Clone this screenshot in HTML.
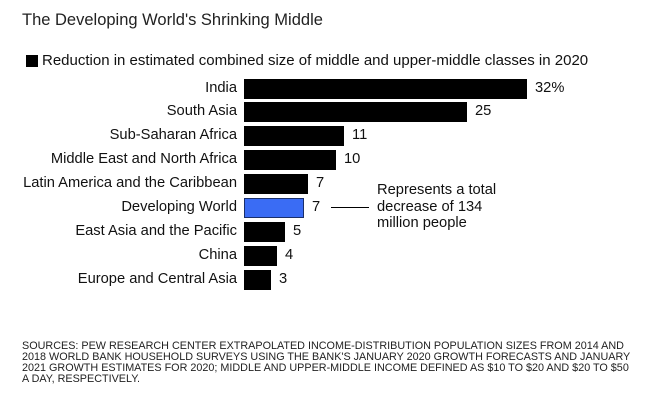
<!DOCTYPE html>
<html><head><style>
body{margin:0;width:658px;height:404px;background:#fff;font-family:"Liberation Sans",Arial,sans-serif;color:#111;position:relative;overflow:hidden}
.a{position:absolute;white-space:nowrap}
.l{position:absolute;right:421px;font-size:14.7px;line-height:20px}
.b{position:absolute;left:244px;height:20px;background:#000}
.v{position:absolute;font-size:14.7px;line-height:20px}
</style></head><body>
<div class="a" style="left:22px;top:11px;font-size:16.5px;color:#222">The Developing World's Shrinking Middle</div>
<div class="a" style="left:26px;top:55px;width:12px;height:12px;background:#000"></div>
<div class="a" style="left:42px;top:52px;font-size:15px">Reduction in estimated combined size of middle and upper-middle classes in 2020</div>

<div class="l" style="top:78px">India</div><div class="b" style="top:79px;width:283px"></div><div class="v" style="left:535px;top:78px">32%</div>
<div class="l" style="top:101px">South Asia</div><div class="b" style="top:102px;width:223px"></div><div class="v" style="left:475px;top:101px">25</div>
<div class="l" style="top:125px">Sub-Saharan Africa</div><div class="b" style="top:126px;width:100px"></div><div class="v" style="left:352px;top:125px">11</div>
<div class="l" style="top:149px">Middle East and North Africa</div><div class="b" style="top:150px;width:92px"></div><div class="v" style="left:344px;top:149px">10</div>
<div class="l" style="top:173px">Latin America and the Caribbean</div><div class="b" style="top:174px;width:64px"></div><div class="v" style="left:316px;top:173px">7</div>
<div class="l" style="top:197px">Developing World</div><div class="b" style="top:198px;width:58px;height:18px;background:#3a6cf4;border:1px solid #1a2f6a"></div><div class="v" style="left:312px;top:197px">7</div>
<div class="a" style="left:331px;top:207px;width:38px;height:1px;background:#000"></div>
<div class="a" style="left:377px;top:182px;font-size:14.7px;line-height:16.5px">Represents a total<br>decrease of 134<br>million people</div>
<div class="l" style="top:221px">East Asia and the Pacific</div><div class="b" style="top:222px;width:41px"></div><div class="v" style="left:293px;top:221px">5</div>
<div class="l" style="top:245px">China</div><div class="b" style="top:246px;width:33px"></div><div class="v" style="left:285px;top:245px">4</div>
<div class="l" style="top:269px">Europe and Central Asia</div><div class="b" style="top:270px;width:27px"></div><div class="v" style="left:279px;top:269px">3</div>

<div class="a" style="left:22px;top:341px;font-size:10.8px;line-height:11px;color:#222">SOURCES: PEW RESEARCH CENTER EXTRAPOLATED INCOME-DISTRIBUTION POPULATION SIZES FROM 2014 AND<br>2018 WORLD BANK HOUSEHOLD SURVEYS USING THE BANK'S JANUARY 2020 GROWTH FORECASTS AND JANUARY<br>2021 GROWTH ESTIMATES FOR 2020; MIDDLE AND UPPER-MIDDLE INCOME DEFINED AS $10 TO $20 AND $20 TO $50<br>A DAY, RESPECTIVELY.</div>
</body></html>
